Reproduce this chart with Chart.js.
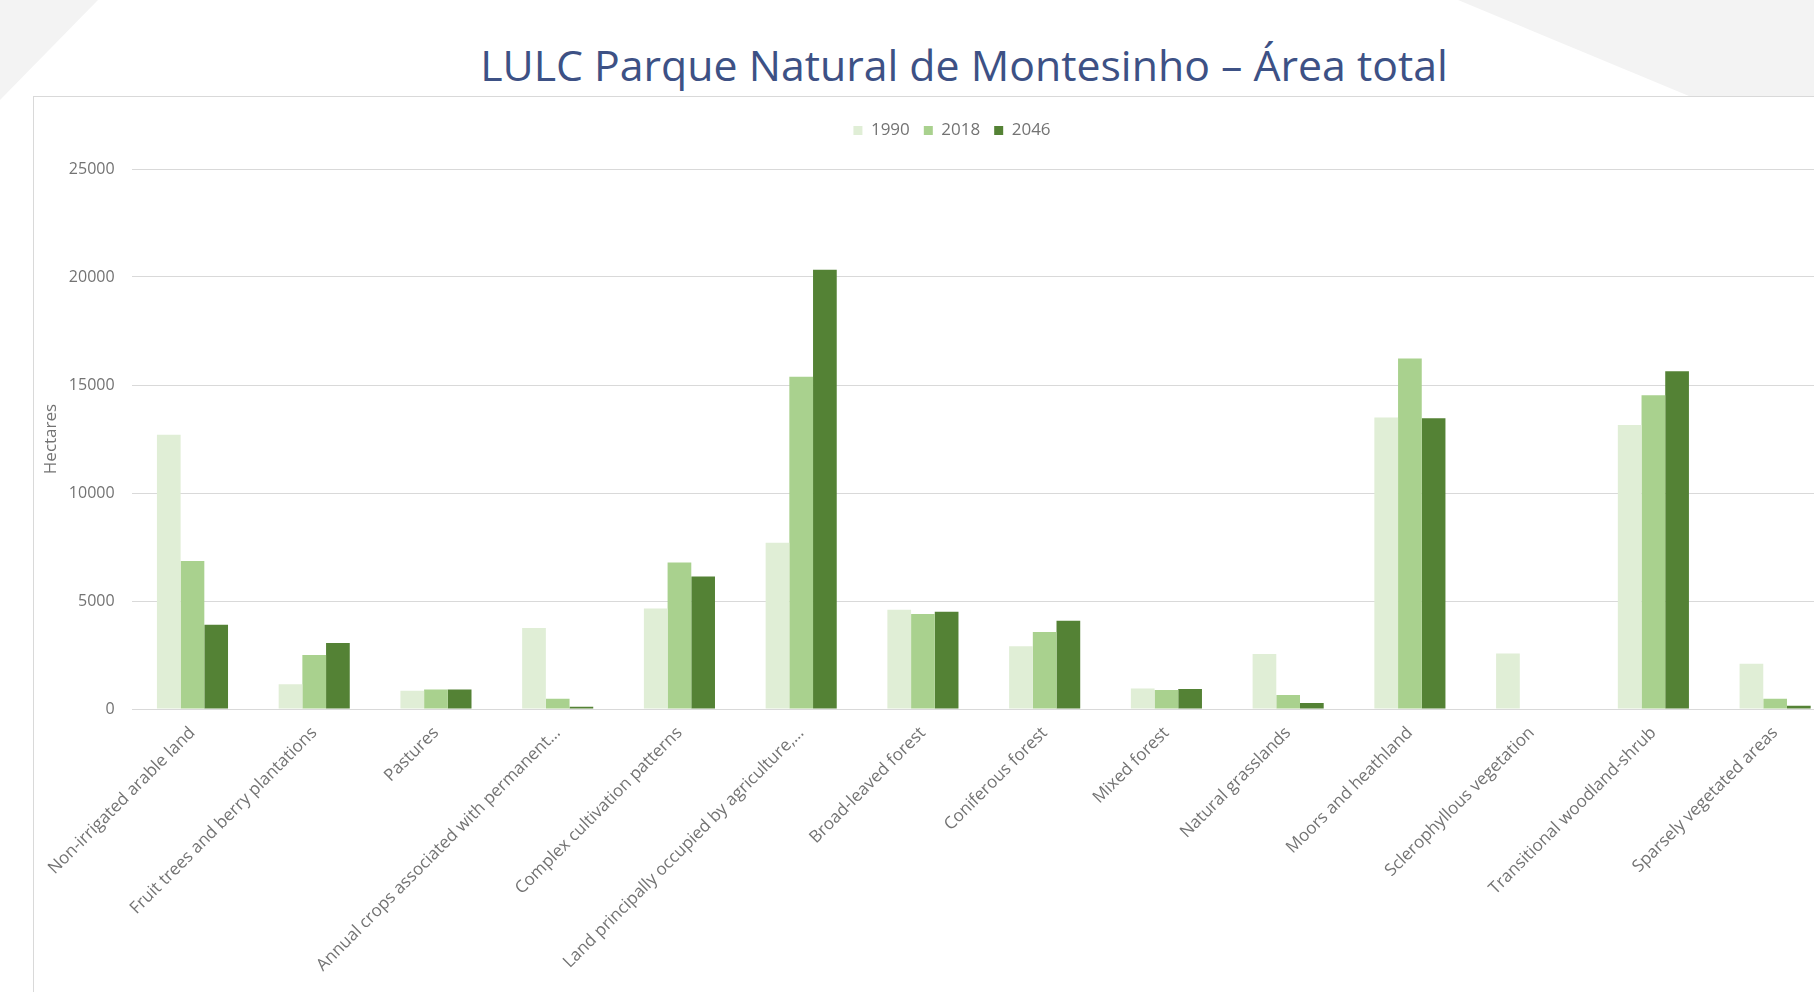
<!DOCTYPE html>
<html>
<head>
<meta charset="utf-8">
<script src="https://cdn.jsdelivr.net/npm/chart.js@4.4.1/dist/chart.umd.min.js"></script>
<style>
    html, body { margin: 0; padding: 0; }
    body { width: 1814px; height: 992px; overflow: hidden; position: relative; background: #fff; font-family: "Open Sans", sans-serif; }
    .deco { position: absolute; background: #f3f3f3; }
    #decoLeft { left: 0; top: 0; width: 110px; height: 110px; clip-path: polygon(0 0, 98px 0, 0 100px); }
    #decoRight { left: 1440px; top: 0; width: 374px; height: 100px; clip-path: polygon(18px 0, 374px 0, 374px 96px, 249px 96px); }
    #titulo { position: absolute; left: 0; top: 44px; width: 1928px; text-align: center; font-size: 42.8px; line-height: 1; color: #3d5185; white-space: nowrap; }
    #caixa { position: absolute; left: 33px; top: 96px; width: 1900px; height: 1000px; border-top: 1px solid #d9d9d9; border-left: 1px solid #d9d9d9; background: #fff; }
    #grafico { position: absolute; left: 0; top: 0; width: 1842px; height: 895px; }
</style>
</head>
<body>
<div class="deco" id="decoLeft"></div>
<div class="deco" id="decoRight"></div>
<div id="titulo">LULC Parque Natural de Montesinho – Área total</div>
<div id="caixa">
    <div id="grafico"><canvas id="graficoLulc"></canvas></div>
</div>
<script>
const categorias = [
    'Non-irrigated arable land',
    'Fruit trees and berry plantations',
    'Pastures',
    'Annual crops associated with permanent…',
    'Complex cultivation patterns',
    'Land principally occupied by agriculture,…',
    'Broad-leaved forest',
    'Coniferous forest',
    'Mixed forest',
    'Natural grasslands',
    'Moors and heathland',
    'Sclerophyllous vegetation',
    'Transitional woodland-shrub',
    'Sparsely vegetated areas'
];
const anos = ['1990', '2018', '2046'];
const valores1990 = [12700, 1150, 850, 3750, 4650, 7700, 4600, 2900, 950, 2550, 13500, 2570, 13150, 2100];
const valores2018 = [6850, 2500, 900, 480, 6780, 15380, 4400, 3570, 880, 650, 16230, 0, 14520, 480];
const valores2046 = [3900, 3050, 900, 100, 6130, 20340, 4500, 4080, 930, 280, 13460, 0, 15640, 150];
const ticksY = [0, 5000, 10000, 15000, 20000, 25000];

const cores = ['#e0eed6', '#a9d18e', '#548235'];
const corTexto = '#737373';

// altura fixa da legenda e deslocamento para o centro da caixa
const ajusteLegenda = {
    id: 'ajusteLegenda',
    beforeLayout(chart) {
        const legenda = chart.legend;
        if (legenda && !legenda._fitOriginal) {
            legenda._fitOriginal = legenda.fit;
            legenda.fit = function () {
                this._fitOriginal();
                this.height = 61;
            };
        }
    },
    afterLayout(chart) {
        chart.legend.left += 17;
        chart.legend.right += 17;
    }
};

const graficoLulc = document.getElementById('graficoLulc');
const graficoParaLulc = new Chart(graficoLulc, {
    type: 'bar',
    data: {
        labels: categorias,
        datasets: [
            { label: anos[0], data: valores1990, backgroundColor: cores[0] },
            { label: anos[1], data: valores2018, backgroundColor: cores[1] },
            { label: anos[2], data: valores2046, backgroundColor: cores[2] }
        ]
    },
    options: {
        responsive: true,
        maintainAspectRatio: false,
        animation: false,
        layout: { padding: { top: 11, right: 40, left: 0, bottom: 0 } },
        datasets: {
            bar: { barPercentage: 1, categoryPercentage: 0.584, borderWidth: 0 }
        },
        plugins: {
            legend: {
                position: 'top',
                labels: {
                    boxWidth: 9,
                    boxHeight: 9,
                    padding: 14,
                    color: corTexto,
                    font: { family: 'Open Sans', size: 17 }
                }
            },
            tooltip: { enabled: false }
        },
        scales: {
            x: {
                grid: { display: false, drawTicks: false },
                border: { display: false },
                ticks: {
                    autoSkip: false,
                    minRotation: 45,
                    maxRotation: 45,
                    padding: 14,
                    color: corTexto,
                    font: { family: 'Open Sans', size: 17 }
                },
                afterFit(scale) {
                    scale.height = 283;
                    scale.paddingLeft = 0;
                    scale.paddingRight = 0;
                }
            },
            y: {
                min: 0,
                max: 25000,
                afterBuildTicks(scale) { scale.ticks = ticksY.map(v => ({ value: v })); },
                grid: { color: '#d9d9d9', lineWidth: 1, drawTicks: false },
                border: { display: false },
                ticks: {
                    padding: 17,
                    color: corTexto,
                    font: { family: 'Open Sans', size: 16 },
                    callback: v => String(v)
                },
                title: {
                    display: true,
                    text: 'Hectares',
                    color: corTexto,
                    font: { family: 'Open Sans', size: 17 },
                    padding: { top: 7, bottom: 4 }
                },
                afterFit(scale) { scale.width = 97.6; }
            }
        }
    },
    plugins: [ajusteLegenda]
});
</script>
</body>
</html>
